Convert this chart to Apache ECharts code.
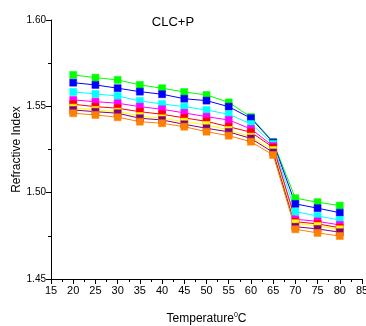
<!DOCTYPE html>
<html>
<head>
<meta charset="utf-8">
<script src="https://cdn.jsdelivr.net/npm/echarts@6/dist/echarts.min.js"></script>
<style>
  html, body { margin: 0; padding: 0; background: #fff; }
  #chart { width: 366px; height: 326px; }
</style>
</head>
<body>
<div id="chart"></div>
<script>
const temperatures = [20, 25, 30, 35, 40, 45, 50, 55, 60, 65, 70, 75, 80];

const green   = [1.5682, 1.5666, 1.5653, 1.5624, 1.5605, 1.5583, 1.5566, 1.5523, 1.5438, 1.5294, 1.4968, 1.4945, 1.4925];
const blue    = [1.5637, 1.5624, 1.5605, 1.5585, 1.5570, 1.5544, 1.5533, 1.5498, 1.5431, 1.5291, 1.4935, 1.4910, 1.4884];
const cyan    = [1.5583, 1.5572, 1.5560, 1.5531, 1.5514, 1.5498, 1.5479, 1.5454, 1.5398, 1.5282, 1.4890, 1.4865, 1.4842];
const magenta = [1.5537, 1.5527, 1.5518, 1.5498, 1.5483, 1.5462, 1.5440, 1.5421, 1.5369, 1.5270, 1.4846, 1.4834, 1.4813];
const red     = [1.5512, 1.5498, 1.5489, 1.5469, 1.5454, 1.5433, 1.5413, 1.5382, 1.5350, 1.5262, 1.4832, 1.4819, 1.4797];
const yellow  = [1.5492, 1.5479, 1.5469, 1.5444, 1.5431, 1.5411, 1.5392, 1.5363, 1.5324, 1.5247, 1.4823, 1.4807, 1.4788];
const purple  = [1.5479, 1.5469, 1.5460, 1.5431, 1.5421, 1.5396, 1.5373, 1.5352, 1.5314, 1.5233, 1.4803, 1.4790, 1.4771];
const orange  = [1.5460, 1.5450, 1.5437, 1.5411, 1.5402, 1.5382, 1.5353, 1.5330, 1.5295, 1.5218, 1.4788, 1.4767, 1.4749];

// drawn in this order, so later series sit on top where squares overlap
const seriesList = [
  { name: "green", color: "#00ff00", values: green },
  { name: "blue", color: "#0000ff", values: blue },
  { name: "cyan", color: "#00ffff", values: cyan },
  { name: "magenta", color: "#ff00ff", values: magenta },
  { name: "red", color: "#ff0000", values: red },
  { name: "yellow", color: "#ffff00", values: yellow },
  { name: "purple", color: "#800080", values: purple },
  { name: "orange", color: "#ff8000", values: orange },
];

const font = "Liberation Sans";
const chart = echarts.init(document.getElementById("chart"), null, { renderer: "canvas" });

chart.setOption({
  animation: false,
  backgroundColor: "#fff",
  title: {
    text: "CLC+P",
    left: 168,
    top: 11,
    textAlign: "center",
    textStyle: { fontFamily: font, fontSize: 13, fontWeight: "normal", color: "#000" },
  },
  grid: { left: 51, top: 20, right: 4, bottom: 47, outerBoundsMode: "none" },
  xAxis: {
    type: "value",
    min: 15,
    max: 85,
    interval: 5,
    name: "Temperature{sup|0}C",
    nameLocation: "middle",
    nameGap: 33,
    nameMoveOverlap: false,
    nameTextStyle: {
      fontFamily: font, fontSize: 12, color: "#000",
      rich: { sup: { fontFamily: font, fontSize: 7, verticalAlign: "top", padding: [0, 0, 7, 0] } },
    },
    axisLine: { lineStyle: { color: "#000", width: 1 } },
    axisTick: { inside: false, length: 5, lineStyle: { color: "#000" } },
    minorTick: { show: true, splitNumber: 2, length: 3, lineStyle: { color: "#000" } },
    axisLabel: { fontFamily: font, fontSize: 11, color: "#000", margin: 6, showMaxLabel: true },
    splitLine: { show: false },
  },
  yAxis: {
    type: "value",
    min: 1.45,
    max: 1.60,
    interval: 0.05,
    name: "Refractive Index",
    nameLocation: "middle",
    nameGap: 28,
    nameMoveOverlap: false,
    nameTextStyle: { fontFamily: font, fontSize: 12, color: "#000" },
    axisLine: { show: true, lineStyle: { color: "#000", width: 1 } },
    axisTick: { show: true, inside: false, length: 5, lineStyle: { color: "#000" } },
    minorTick: { show: true, splitNumber: 2, length: 3, lineStyle: { color: "#000" } },
    axisLabel: {
      fontFamily: font, fontSize: 10, color: "#000", margin: 5,
      formatter: (v) => v.toFixed(2),
    },
    splitLine: { show: false },
  },
  series: seriesList.map((s) => ({
    name: s.name,
    type: "line",
    data: temperatures.map((t, i) => [t, s.values[i]]),
    symbol: "rect",
    symbolSize: 7,
    showSymbol: true,
    lineStyle: { color: s.color, width: 1 },
    itemStyle: { color: s.color, borderColor: s.color, borderWidth: 0.5, opacity: 1 },
  })),
});
</script>
</body>
</html>
